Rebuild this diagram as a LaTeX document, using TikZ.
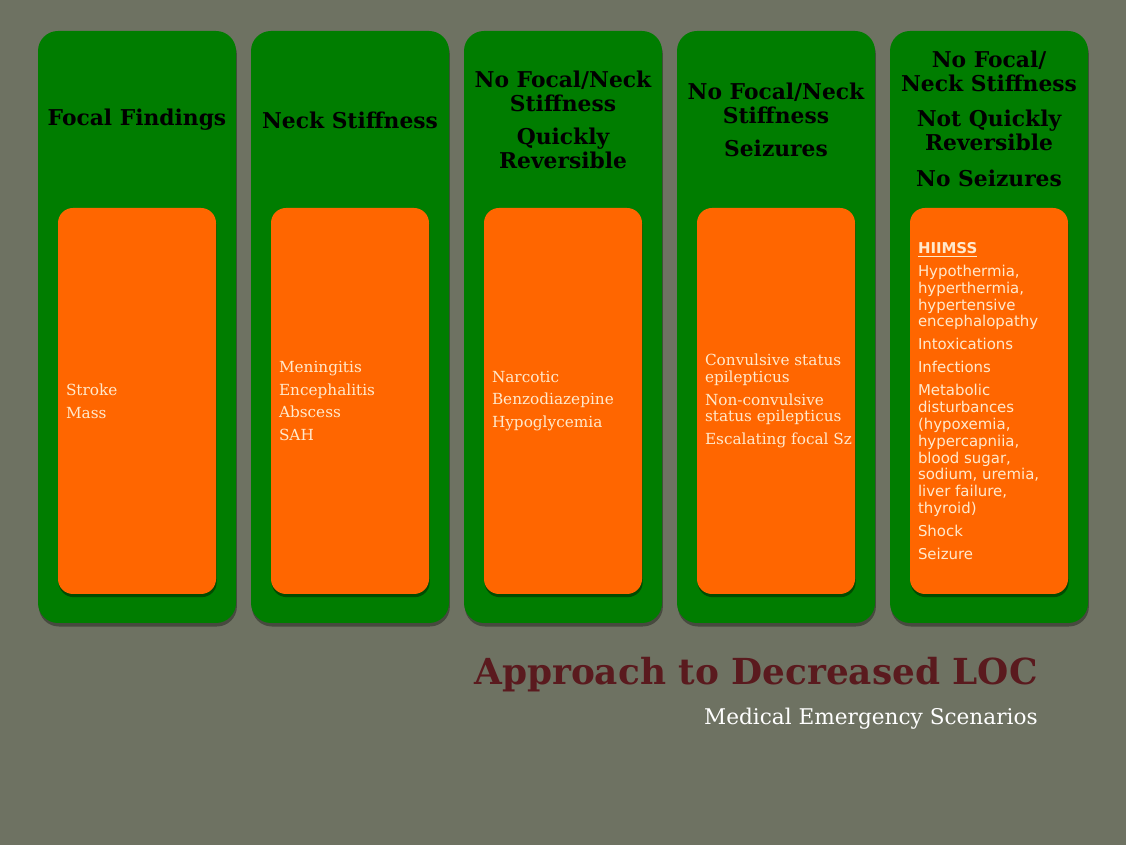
\documentclass[tikz,border=0pt]{standalone}
\usepackage{fontspec}
\setmainfont{DejaVu Serif}
\newfontfamily\verdanalike{DejaVu Sans}
\usepackage{xcolor}
\usetikzlibrary{shadows}
\definecolor{slidegray}{HTML}{6E7262}
\definecolor{panelgreen}{HTML}{007D00}
\definecolor{cardorange}{HTML}{FF6600}
\definecolor{cardtext}{HTML}{FFE9CC}
\definecolor{titlemaroon}{HTML}{5A1A1E}

\begin{document}
\begin{tikzpicture}[
    x=1cm,y=1cm,
    panel/.style={rounded corners=0.4cm, fill=panelgreen, minimum width=3.96cm, minimum height=11.84cm, drop shadow={shadow xshift=0.5pt, shadow yshift=-2pt, opacity=0.35, fill=black}},
    card/.style={rounded corners=0.3cm, fill=cardorange, minimum width=3.16cm, minimum height=7.72cm, drop shadow={shadow xshift=0.4pt, shadow yshift=-1.8pt, opacity=0.4, fill=black}},
    head/.style={font=\fontsize{12.4}{13.5}\selectfont\bfseries, text=black, align=center},
    items/.style={anchor=west, inner sep=0pt, font=\fontsize{8.7}{9.6}\selectfont, text=cardtext, align=left},
    sansitems/.style={items, font=\verdanalike\fontsize{8.5}{9.6}\selectfont}
  ]
    \fill[slidegray] (0,0) rectangle (22.52,16.90);

    \node[panel] (panel1) at (2.74,10.36) {};
    \node[panel] (panel2) at (7.00,10.36) {};
    \node[panel] (panel3) at (11.26,10.36) {};
    \node[panel] (panel4) at (15.52,10.36) {};
    \node[panel] (panel5) at (19.78,10.36) {};

    \node[card] (card1) at (2.74,8.88) {};
    \node[card] (card2) at (7.00,8.88) {};
    \node[card] (card3) at (11.26,8.88) {};
    \node[card] (card4) at (15.52,8.88) {};
    \node[card] (card5) at (19.78,8.88) {};

    \node[head] (head1) at (2.74,14.50) {Focal Findings};
    \node[head] (head2) at (7.00,14.50) {Neck Stiffness};
    \node[head] (head3) at (11.26,14.50) {No Focal/Neck\\Stiffness\\[5.5pt]Quickly\\Reversible};
    \node[head] (head4) at (15.52,14.50) {No Focal/Neck\\Stiffness\\[5.5pt]Seizures};
    \node[head] (head5) at (19.78,14.52) {No Focal/\\Neck Stiffness\\[6.5pt]Not Quickly\\Reversible\\[7pt]No Seizures};

    \node[items] (list1) at ([xshift=0.16cm]card1.west) {Stroke\\[3.4pt]Mass};
    \node[items] (list2) at ([xshift=0.16cm]card2.west) {Meningitis\\[3.4pt]Encephalitis\\[3.4pt]Abscess\\[3.4pt]SAH};
    \node[items] (list3) at ([xshift=0.16cm]card3.west) {Narcotic\\[3.4pt]Benzodiazepine\\[3.4pt]Hypoglycemia};
    \node[items] (list4) at ([xshift=0.16cm]card4.west) {Convulsive status\\epilepticus\\[3.4pt]Non-convulsive\\status epilepticus\\[3.4pt]Escalating focal Sz};
    \node[sansitems] (list5) at ([xshift=0.16cm]card5.west) {\underline{\textbf{HIIMSS}}\\[3.4pt]Hypothermia,\\hyperthermia,\\hypertensive\\encephalopathy\\[3.4pt]Intoxications\\[3.4pt]Infections\\[3.4pt]Metabolic\\disturbances\\(hypoxemia,\\hypercapniia,\\blood sugar,\\sodium, uremia,\\liver failure,\\thyroid)\\[3.4pt]Shock\\[3.4pt]Seizure};

    \node[anchor=east, inner sep=0pt, font=\fontsize{20.4}{22}\selectfont\bfseries, text=titlemaroon] (title) at (20.76,3.40) {Approach to Decreased LOC};
    \node[anchor=east, inner sep=0pt, font=\fontsize{12.3}{14}\selectfont, text=white] (subtitle) at (20.76,2.52) {Medical Emergency Scenarios};
  \end{tikzpicture}
\end{document}
